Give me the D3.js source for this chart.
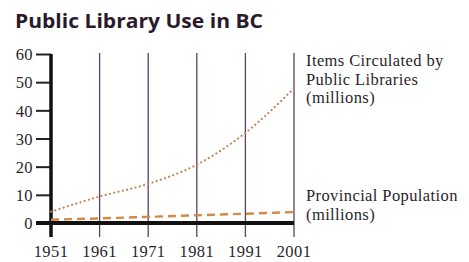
<!DOCTYPE html>
<html lang="en">
<head>
  <meta charset="UTF-8">
  <title>Public Library Use in BC</title>
  <script src="https://d3js.org/d3.v7.min.js"></script>
  <style>
    body { margin: 0; background: #fff; }
    .serif { font-family: "Liberation Serif", "DejaVu Serif", serif; font-size: 16.5px; fill: #2a1f2a; letter-spacing: 0.4px; }
  </style>
</head>
<body>
  <svg width="469" height="262"></svg>
  <script>
    const years = [1951, 1961, 1971, 1981, 1991, 2001];
    const circulated = [4, 9.4, 13.9, 20.7, 32, 47.8];
    const population = [1.17, 1.63, 2.18, 2.74, 3.28, 3.9];
    const yTicks = [0, 10, 20, 30, 40, 50, 60];

    const svg = d3.select("svg");

    const x = d3.scaleLinear().domain([1951, 2001]).range([51, 294]);
    const y = d3.scaleLinear().domain([0, 60]).range([223, 54]);

    // title
    svg.append("text")
      .attr("x", 15).attr("y", 28)
      .attr("font-family", "'Open Sans', sans-serif")
      .attr("font-weight", 700)
      .attr("font-size", 20)
      .attr("fill", "#2a1a2c")
      .attr("textLength", 248)
      .attr("lengthAdjust", "spacingAndGlyphs")
      .text("Public Library Use in BC");

    // vertical decade lines
    svg.selectAll(".vline")
      .data(years.slice(1))
      .join("line")
      .attr("x1", d => x(d)).attr("x2", d => x(d))
      .attr("y1", 53).attr("y2", 237)
      .attr("stroke", "#5b3f66")
      .attr("stroke-width", 1.3);

    // y axis ticks
    const yAxis = svg.append("g")
      .attr("transform", "translate(51,0)")
      .call(d3.axisLeft(y).tickValues(yTicks).tickSize(15).tickPadding(3));
    yAxis.select(".domain").remove();
    yAxis.selectAll(".tick line").attr("stroke", "#222").attr("stroke-width", 2);
    yAxis.selectAll(".tick text")
      .attr("class", "serif")
      .attr("font-family", null).attr("font-size", null)
      .attr("dy", "0.35em");

    // thick axes
    svg.append("line")
      .attr("x1", 51).attr("x2", 51)
      .attr("y1", y(60)).attr("y2", 237)
      .attr("stroke", "#111").attr("stroke-width", 3.5);
    svg.append("line")
      .attr("x1", 36).attr("x2", x(2001))
      .attr("y1", y(0)).attr("y2", y(0))
      .attr("stroke", "#111").attr("stroke-width", 4);

    // x tick labels
    svg.selectAll(".xlab")
      .data(years)
      .join("text")
      .attr("class", "serif")
      .attr("x", d => x(d)).attr("y", 257)
      .attr("text-anchor", "middle")
      .text(d => d);

    const line = d3.line().curve(d3.curveMonotoneX)
      .x((d, i) => x(years[i])).y(d => y(d));

    svg.append("path")
      .attr("d", line(circulated))
      .attr("fill", "none")
      .attr("stroke", "#c98556")
      .attr("stroke-width", 2.2)
      .attr("stroke-linecap", "round")
      .attr("stroke-dasharray", "0.1 4.3");

    svg.append("path")
      .attr("d", line(population))
      .attr("fill", "none")
      .attr("stroke", "#d08a45")
      .attr("stroke-width", 2.4)
      .attr("stroke-dasharray", "8 5");

    // series labels
    const lab1 = ["Items Circulated by", "Public Libraries", "(millions)"];
    const lab2 = ["Provincial Population", "(millions)"];
    svg.selectAll(".lab1").data(lab1).join("text")
      .attr("class", "serif").attr("x", 306).attr("y", (d, i) => 66 + i * 18.5).text(d => d);
    svg.selectAll(".lab2").data(lab2).join("text")
      .attr("class", "serif").attr("x", 306).attr("y", (d, i) => 201 + i * 18.5).text(d => d);
  </script>
</body>
</html>
